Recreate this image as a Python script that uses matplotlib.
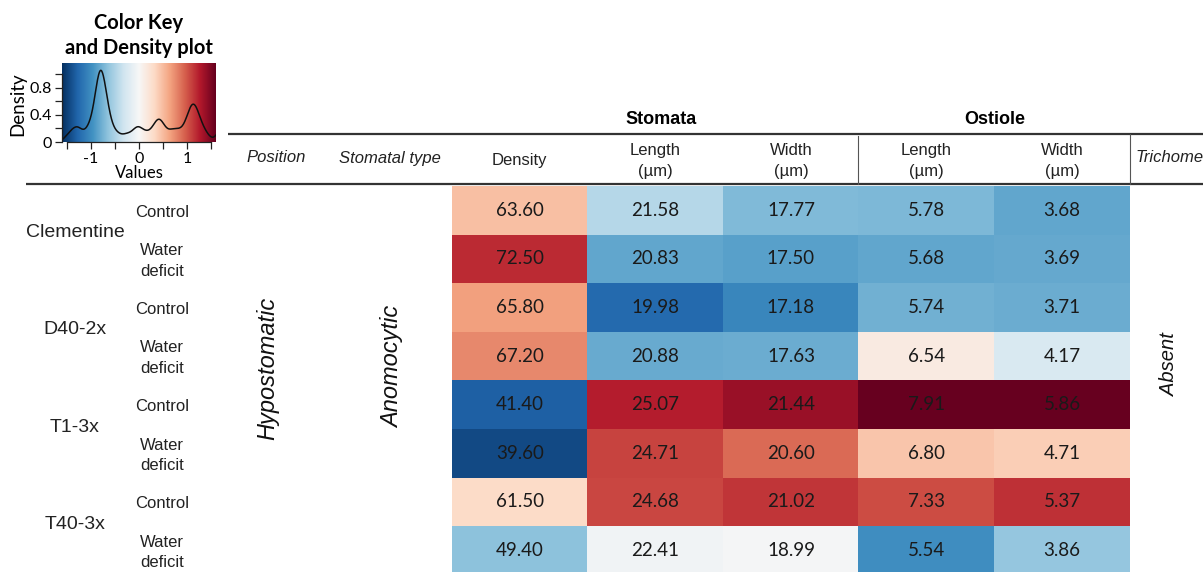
import numpy as np
import matplotlib
matplotlib.use("Agg")
import matplotlib.pyplot as plt
from matplotlib.colors import Normalize

# ---------------- data ----------------
genotypes = ["Clementine", "D40-2x", "T1-3x", "T40-3x"]
treatments = ["Control", "Water\ndeficit"]
group_labels = ["Stomata", "Ostiole"]
col_labels = ["Density", "Length\n(µm)", "Width\n(µm)", "Length\n(µm)", "Width\n(µm)"]
stomata_density = [63.60, 72.50, 65.80, 67.20, 41.40, 39.60, 61.50, 49.40]
stomata_length = [21.58, 20.83, 19.98, 20.88, 25.07, 24.71, 24.68, 22.41]
stomata_width = [17.77, 17.50, 17.18, 17.63, 21.44, 20.60, 21.02, 18.99]
ostiole_length = [5.78, 5.68, 5.74, 6.54, 7.91, 6.80, 7.33, 5.54]
ostiole_width = [3.68, 3.69, 3.71, 4.17, 5.86, 4.71, 5.37, 3.86]
position_label = "Hypostomatic"
stomatal_type_label = "Anomocytic"
trichome_label = "Absent"
key_ticks = [-1, 0, 1]
key_minor_ticks = [-1.5, -1, -0.5, 0, 0.5, 1, 1.5]
density_ticks = [0, 0.4, 0.8]
density_minor_ticks = [0, 0.2, 0.4, 0.6, 0.8, 1.0]

values = np.column_stack([stomata_density, stomata_length, stomata_width,
                          ostiole_length, ostiole_width])
z = (values - values.mean(axis=0)) / values.std(axis=0, ddof=1)

# KDE like R density(adjust=0.25)
zf = z.ravel()
n = zf.size
iqr = np.subtract(*np.percentile(zf, [75, 25]))
bw = 0.9 * min(zf.std(ddof=1), iqr / 1.34) * n ** (-0.2) * 0.25
xs = np.linspace(-1.6, 1.6, 400)
dens = np.exp(-0.5 * ((xs[:, None] - zf[None, :]) / bw) ** 2).sum(axis=1) / (n * bw * np.sqrt(2 * np.pi))

# ---------------- figure ----------------
W, H = 1203, 572
fig = plt.figure(figsize=(W / 100, H / 100), dpi=100)
cmap = plt.get_cmap("RdBu_r")
norm = Normalize(vmin=-1.6, vmax=1.6)

ARIAL = "Liberation Sans"
CAL = "Lato"

def fax(x0, y0, x1, y1):
    return [x0 / W, 1 - y1 / H, (x1 - x0) / W, (y1 - y0) / H]

# heatmap
hx0, hx1, hy0, rh = 452, 1130, 186, 48.6
nrows, ncols = values.shape
hy1 = hy0 + nrows * rh
ax = fig.add_axes(fax(hx0, hy0, hx1, hy1))
ax.imshow(z, cmap=cmap, norm=norm, aspect="auto", interpolation="nearest")
for i in range(nrows):
    for j in range(ncols):
        ax.text(j, i, f"{values[i, j]:.2f}", ha="center", va="center",
                fontsize=13.5, family=CAL, color="#1a1a1a")
ax.set_axis_off()

# color key
kx0, ky0, kx1, ky1 = 62, 63, 216, 142
kax = fig.add_axes(fax(kx0, ky0, kx1, ky1))
kax.imshow(xs[None, :], extent=(-1.6, 1.6, 0, 1.17), aspect="auto",
           cmap=cmap, norm=norm, interpolation="bilinear")
kax.plot(xs, dens, color="#111111", lw=1.1)
kax.set_xlim(-1.6, 1.6)
kax.set_ylim(0, 1.17)
kax.set_xticks(key_ticks)
kax.set_xticklabels([str(t) for t in key_ticks], fontsize=11.5, family=CAL)
kax.set_xticks(key_minor_ticks, minor=True)
kax.set_yticks(density_ticks)
kax.set_yticklabels(["0", "0.4", "0.8"], fontsize=11.5, family=CAL)
kax.set_yticks(density_minor_ticks, minor=True)
kax.tick_params(which="both", length=5, width=0.9, color="#222222")
kax.tick_params(axis="x", pad=2)
kax.tick_params(axis="y", pad=2)
for s in ["top", "right"]:
    kax.spines[s].set_visible(False)
kax.spines["left"].set_bounds(0, 1.0)
kax.spines["bottom"].set_bounds(-1.5, 1.5)
for s in ["left", "bottom"]:
    kax.spines[s].set_linewidth(0.9)
    kax.spines[s].set_color("#222222")
kax.set_xlabel("Values", fontsize=12, family=CAL)
kax.set_ylabel("Density", fontsize=13.5, family=CAL)
kax.xaxis.set_label_coords(0.5, (ky1 - 173) / (ky1 - ky0))
kax.xaxis.label.set_va("center")
kax.yaxis.set_label_coords((18 - kx0) / (kx1 - kx0), (ky1 - 104) / (ky1 - ky0))
kax.yaxis.label.set_va("center")

# overlay in pixel coordinates
ox = fig.add_axes([0, 0, 1, 1], zorder=5)
ox.set_xlim(0, W)
ox.set_ylim(H, 0)
ox.set_axis_off()
ox.patch.set_alpha(0)

ox.text(139, 23, "Color Key", ha="center", va="center", fontsize=14.5,
        family=CAL, fontweight="bold")
ox.text(139, 48, "and Density plot", ha="center", va="center", fontsize=14.5,
        family=CAL, fontweight="bold")

# rules
ox.plot([228, W], [134, 134], color="#333333", lw=1.6, solid_capstyle="butt")
ox.plot([26, W], [184, 184], color="#333333", lw=1.6, solid_capstyle="butt")
cw = (hx1 - hx0) / ncols
ox.plot([hx0 + 3 * cw - 1, hx0 + 3 * cw - 1], [136, 184], color="#555555", lw=0.8)
ox.plot([hx1, hx1], [134, 184], color="#555555", lw=0.8)

# group headers
ox.text(661, 120, group_labels[0], ha="center", va="center", fontsize=13,
        family=ARIAL, fontweight="bold")
ox.text(hx0 + 4 * cw, 120, group_labels[1], ha="center", va="center", fontsize=13,
        family=ARIAL, fontweight="bold")

# column headers
for j, lab in enumerate(col_labels):
    ox.text(hx0 + (j + 0.5) * cw, 161, lab, ha="center", va="center",
            fontsize=12, family=ARIAL, color="#222222", linespacing=1.45)
ox.text(276, 158, "Position", ha="center", va="center", fontsize=12,
        family=ARIAL, style="italic", color="#222222")
ox.text(390, 158, "Stomatal type", ha="center", va="center", fontsize=12,
        family=ARIAL, style="italic", color="#222222")
ox.text(1170, 158, "Trichome", ha="center", va="center", fontsize=12,
        family=ARIAL, style="italic", color="#222222")

# row labels
for g, name in enumerate(genotypes):
    yc = hy0 + (2 * g + 1) * rh
    ox.text(75, yc - 2, name, ha="center", va="center", fontsize=14,
            family=ARIAL, color="#222222")
    for t, tr in enumerate(treatments):
        yr = hy0 + (2 * g + t + 0.5) * rh
        ox.text(162, yr + 2, tr, ha="center", va="center", fontsize=12,
                family=ARIAL, color="#222222", linespacing=1.45)

ymid = hy0 + 4 * rh
ox.text(268, ymid - 12, position_label, ha="center", va="center", rotation=90,
        fontsize=17, family=ARIAL, style="italic", color="#111111")
ox.text(393, ymid - 14, stomatal_type_label, ha="center", va="center", rotation=90,
        fontsize=17, family=ARIAL, style="italic", color="#111111")
ox.text(1170, ymid - 16, trichome_label, ha="center", va="center", rotation=90,
        fontsize=14.5, family=ARIAL, style="italic", color="#111111")

fig.savefig("out.png", dpi=100)
